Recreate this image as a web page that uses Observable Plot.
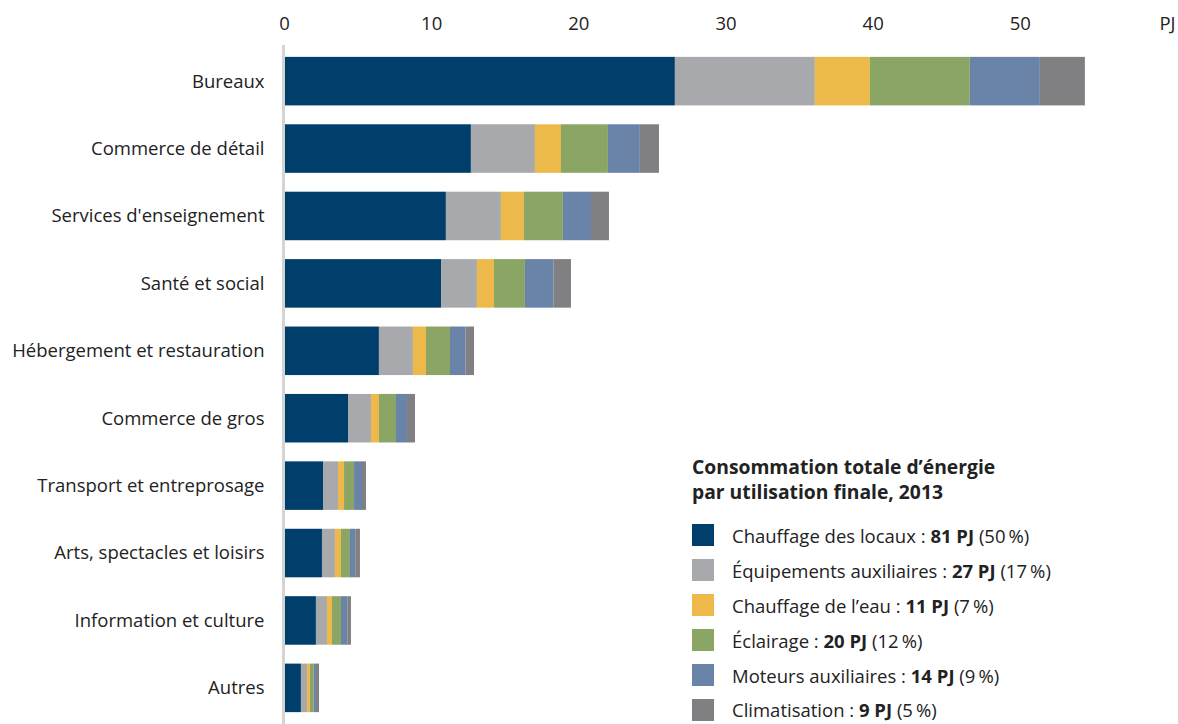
<!DOCTYPE html>
<html><head><meta charset="utf-8">
<script src="https://cdn.jsdelivr.net/npm/d3@7"></script>
<script src="https://cdn.jsdelivr.net/npm/@observablehq/plot@0.6"></script>
<style>
body{margin:0;background:#fff;font-family:"Open Sans",sans-serif;}
#wrap{position:relative;width:1178px;height:724px;}
#legend{position:absolute;left:692px;top:454px;color:#222;font-size:18.5px;white-space:nowrap;}
#legend .t{font-weight:700;font-size:19.3px;line-height:25px;margin-bottom:14px;}
#legend .it{display:flex;align-items:center;height:34.9px;}
#legend .sw{width:22px;height:22px;margin-right:18px;flex:none;}
</style></head><body>
<div id="wrap"><div id="chart"></div><div id="legend"></div></div>
<script>
const categories = ["Bureaux","Commerce de détail","Services d'enseignement","Santé et social","Hébergement et restauration","Commerce de gros","Transport et entreprosage","Arts, spectacles et loisirs","Information et culture","Autres"];
const series = ["Chauffage des locaux","Équipements auxiliaires","Chauffage de l’eau","Éclairage","Moteurs auxiliaires","Climatisation"];
const colors = ["#003F6B","#A8A9AC","#EDB94B","#8BA565","#6983A9","#808083"];
const chauffageLocaux = [26.56,12.70,11.00,10.67,6.45,4.35,2.65,2.58,2.17,1.15];
const equipements     = [9.51,4.35,3.74,2.44,2.31,1.56,1.02,0.88,0.75,0.41];
const chauffageEau    = [3.74,1.77,1.56,1.16,0.89,0.54,0.41,0.41,0.34,0.21];
const eclairage       = [6.79,3.19,2.65,2.10,1.63,1.16,0.68,0.61,0.61,0.25];
const moteurs         = [4.76,2.17,1.91,1.93,1.06,0.75,0.54,0.36,0.43,0.15];
const climatisation   = [3.06,1.30,1.22,1.20,0.57,0.54,0.27,0.32,0.25,0.21];
const legendTotals = ["81 PJ","27 PJ","11 PJ","20 PJ","14 PJ","9 PJ"];
const legendShares = ["(50\u2009%)","(17\u2009%)","(7\u2009%)","(12\u2009%)","(9\u2009%)","(5\u2009%)"];
const xTicks = [0,10,20,30,40,50,60];

const seriesValues = [chauffageLocaux,equipements,chauffageEau,eclairage,moteurs,climatisation];
const table = [];
categories.forEach((c,i)=>series.forEach((s,j)=>table.push({category:c,series:s,value:seriesValues[j][i]})));

const chart = Plot.plot({
  width:1178, height:724,
  marginLeft:284, marginRight:11, marginTop:45, marginBottom:0,
  style:{fontFamily:"'Open Sans',sans-serif",fontSize:"18.5px",color:"#222",background:"#fff"},
  x:{domain:[0,60],axis:"top",ticks:xTicks,tickSize:0,tickPadding:16,label:null,
     tickFormat:d=>d===60?"PJ":String(d)},
  y:{domain:categories,paddingInner:0.28,paddingOuter:0.176,round:false,tickSize:0,tickPadding:20,label:null},
  color:{domain:series,range:colors},
  marks:[
    Plot.barX(table,Plot.stackX({y:"category",x:"value",fill:"series",order:series})),
    Plot.ruleX([0],{stroke:"#d4d4d4",strokeWidth:3,dx:-1})
  ]
});
document.getElementById("chart").appendChild(chart);

const lg = document.getElementById("legend");
lg.innerHTML = '<div class="t">Consommation totale d’énergie<br>par utilisation finale, 2013</div>' +
  series.map((s,i)=>`<div class="it"><div class="sw" style="background:${colors[i]}"></div><span>${s}\u00a0: <b>${legendTotals[i]}</b> ${legendShares[i]}</span></div>`).join("");
</script>
</body></html>
